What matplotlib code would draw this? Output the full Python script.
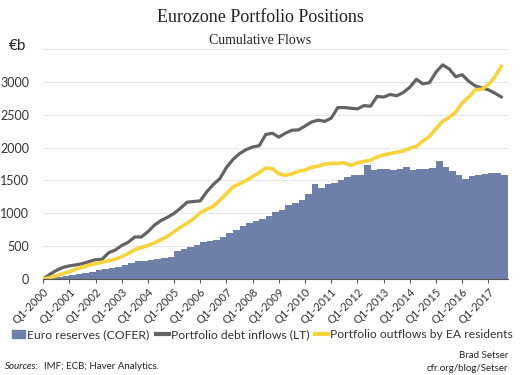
import numpy as np
import matplotlib
matplotlib.use("Agg")
import matplotlib.pyplot as plt
from matplotlib.patches import Patch
from matplotlib.lines import Line2D

# quarterly data, Q1-2000 .. Q3-2017 (EUR bn, cumulative)
years = list(range(2000, 2018))
tick_labels = ["Q1-%d" % y for y in years]

reserves = [5, 20, 35, 50, 65, 80, 95, 110, 130, 150, 170, 190, 220, 250, 270, 280,
            290, 305, 320, 335, 420, 460, 490, 520, 560, 580, 600, 640, 700, 750,
            800, 850, 880, 920, 960, 1020, 1050, 1130, 1160, 1210, 1300, 1440, 1390,
            1440, 1460, 1510, 1560, 1580, 1590, 1740, 1660, 1670, 1680, 1660, 1680,
            1700, 1660, 1670, 1680, 1690, 1790, 1700, 1640, 1580, 1530, 1570, 1590,
            1600, 1620, 1610, 1580]

debt_inflows = [0, 70, 130, 175, 200, 215, 235, 265, 295, 300, 400, 440, 510, 560,
                640, 640, 720, 820, 890, 940, 1000, 1080, 1170, 1180, 1190, 1330,
                1440, 1530, 1700, 1820, 1910, 1970, 2010, 2030, 2200, 2220, 2160,
                2220, 2265, 2270, 2330, 2390, 2420, 2400, 2450, 2610, 2610, 2600,
                2590, 2640, 2630, 2780, 2770, 2810, 2790, 2840, 2920, 3040, 2970,
                2990, 3150, 3260, 3200, 3080, 3110, 3010, 2940, 2910, 2880, 2830, 2770]

outflows = [0, 20, 50, 80, 110, 150, 180, 210, 235, 255, 280, 300, 340, 390, 445,
            480, 510, 550, 600, 650, 720, 790, 850, 920, 1010, 1060, 1110, 1200,
            1300, 1400, 1450, 1500, 1560, 1620, 1690, 1680, 1600, 1580, 1600, 1640,
            1660, 1700, 1720, 1750, 1760, 1760, 1770, 1730, 1770, 1790, 1810, 1860,
            1890, 1910, 1930, 1950, 1990, 2020, 2100, 2170, 2290, 2400, 2460, 2540,
            2680, 2770, 2880, 2890, 2960, 3080, 3240]

bar_color = "#6e7fa8"
gray = "#636363"
yellow = "#f8d23a"

fig = plt.figure(figsize=(5.2, 3.75), dpi=100)
ax = fig.add_axes([0.083, 0.256, 0.894, 0.613])

q = np.arange(len(reserves))
ax.bar(q, reserves, width=1.0, align="edge", color=bar_color, linewidth=0, zorder=2)
ax.plot(q, debt_inflows, color=gray, lw=2.3, zorder=3, solid_capstyle="round")
ax.plot(q, outflows, color=yellow, lw=2.6, zorder=4, solid_capstyle="round")

ax.set_xlim(0, len(reserves))
ax.set_ylim(0, 3500)
ax.set_yticks(range(0, 3501, 500))
ax.set_yticklabels(["0", "500", "1000", "1500", "2000", "2500", "3000", ""],
                   fontsize=9, family="Lato", color="#333333")
ax.set_xticks(np.arange(0, len(reserves), 4))
ax.set_xticklabels(tick_labels, rotation=45, ha="right", rotation_mode="anchor",
                   fontsize=8, family="Lato", color="#333333")
ax.tick_params(axis="y", length=0, pad=10)
ax.tick_params(axis="x", length=3, color="#555555", pad=2)
ax.grid(axis="y", color="#e6e6e6", lw=0.8, zorder=0)
for s in ["top", "right", "left"]:
    ax.spines[s].set_visible(False)
ax.spines["bottom"].set_color("#555555")
ax.spines["bottom"].set_zorder(5)

handles = [Patch(color=bar_color),
           Line2D([], [], color=gray, lw=3),
           Line2D([], [], color=yellow, lw=3)]
labels = ["Euro reserves (COFER)", "Portfolio debt inflows (LT)",
          "Portfolio outflows by EA residents"]
fig.legend(handles, labels, loc="center", bbox_to_anchor=(0.505, 0.107), ncol=3,
           frameon=False, prop={"family": "Lato", "size": 8.7},
           handlelength=1.1, handletextpad=0.15, columnspacing=0.5,
           borderaxespad=0, borderpad=0, labelcolor="#333333")

fig.text(0.5, 0.952, "Eurozone Portfolio Positions", ha="center", va="center",
         fontsize=13, family="Liberation Serif", color="#222222")
fig.text(0.5, 0.893, "Cumulative Flows", ha="center", va="center",
         fontsize=10, family="Liberation Serif", color="#222222")
fig.text(0.016, 0.877, "€b", ha="left", va="center", fontsize=11,
         family="Lato", color="#222222")

fig.text(0.01, 0.022, "Sources:", ha="left", va="center", fontsize=7,
         family="Lato", style="italic", color="#222222")
fig.text(0.085, 0.022, "IMF; ECB; Haver Analytics.", ha="left", va="center",
         fontsize=7, family="Lato", color="#222222")
fig.text(0.977, 0.053, "Brad Setser", ha="right", va="center", fontsize=7,
         family="Lato", color="#222222")
fig.text(0.977, 0.018, "cfr.org/blog/Setser", ha="right", va="center",
         fontsize=7, family="Lato", color="#222222")

fig.savefig("out.png", dpi=100)
